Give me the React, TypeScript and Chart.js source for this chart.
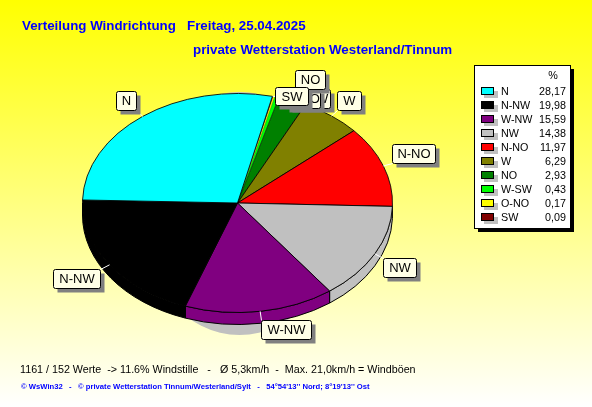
import React, { useEffect, useRef } from "react";
import { Chart, registerables } from "chart.js";

Chart.register(...registerables);

const categories = ["N", "N-NW", "W-NW", "NW", "N-NO", "W", "NO", "W-SW", "O-NO", "SW"];
const percents = [28.17, 19.98, 15.59, 14.38, 11.97, 6.29, 2.93, 0.43, 0.17, 0.09];
const percentLabels = ["28,17", "19,98", "15,59", "14,38", "11,97", "6,29", "2,93", "0,43", "0,17", "0,09"];
const colors = ["#00ffff", "#000000", "#800080", "#c0c0c0", "#ff0000", "#808000", "#008000", "#00ff00", "#ffff00", "#800000"];
const sliceBorders = [1, 1, 1, 1, 1, 1, 0.6, 0.2, 0.2, 0.2];

const titleLine1 = "Verteilung Windrichtung   Freitag, 25.04.2025";
const titleLine2 = "private Wetterstation Westerland/Tinnum";
const statsLine = "1161 / 152 Werte  -> 11.6% Windstille   -   Ø 5,3km/h  -  Max. 21,0km/h = Windböen";
const footerLine = "© WsWin32   -   © private Wetterstation Tinnum/Westerland/Sylt   -   54°54'13'' Nord; 8°19'13'' Ost";

// Layout of the callouts: [left, top, right, bottom], in back-to-front drawing order
const calloutBoxes: Record<string, number[]> = {
  "N": [116.5, 91.5, 136.5, 110.5],
  "N-NW": [53.5, 269.5, 100.5, 288.5],
  "W-NW": [261.5, 320.5, 311.5, 339.5],
  "NW": [383.5, 258.5, 416.5, 277.5],
  "N-NO": [392.5, 144.5, 435.5, 163.5],
  "W": [337.5, 91.5, 361.5, 110.5],
  "W-SW": [288.5, 89.5, 330.5, 108.5],
  "O-NO": [285.5, 89.5, 320.5, 108.5],
  "NO": [295.5, 70.5, 325.5, 89.5],
  "SW": [275.5, 87.5, 308.5, 105.5],
};

const SQUASH = 109.5 / 155;
const DEPTH = 12;
const ROTATION = 13;
const FONT = '"Liberation Sans", Arial, sans-serif';

function roundRect(ctx: CanvasRenderingContext2D, l: number, t: number, r: number, b: number, rad: number) {
  ctx.beginPath();
  ctx.roundRect(l, t, r - l, b - t, rad);
}

const pie3d = {
  id: "pie3d",
  beforeDraw(chart: any) {
    const { ctx, width, height } = chart;
    const g = ctx.createLinearGradient(0, 0, 0, height);
    g.addColorStop(0, "#ffff00");
    g.addColorStop(1, "#ffffff");
    ctx.fillStyle = g;
    ctx.fillRect(0, 0, width, height);
  },
  beforeDatasetsDraw(chart: any) {
    const { ctx } = chart;
    const arcs = chart.getDatasetMeta(0).data;
    const cx = arcs[0].x;
    const cy = arcs[0].y;
    const rx = arcs[0].outerRadius;
    const ry = rx * SQUASH;

    // grey shadow behind the pie
    ctx.save();
    ctx.fillStyle = "#c0c0c0";
    ctx.beginPath();
    ctx.ellipse(cx + 2, cy + 10.5, 100, 121.5, 0, 0, Math.PI * 2);
    ctx.fill();

    // rim of the pie, front half only
    arcs.forEach((arc: any) => {
      let a = arc.startAngle;
      let b = arc.endAngle;
      const two = Math.PI * 2;
      while (a < 0) { a += two; b += two; }
      while (a >= two) { a -= two; b -= two; }
      if (a >= Math.PI) return;
      b = Math.min(b, Math.PI);
      ctx.beginPath();
      ctx.ellipse(cx, cy + DEPTH, rx, ry, 0, a, b);
      ctx.ellipse(cx, cy, rx, ry, 0, b, a, true);
      ctx.closePath();
      ctx.fillStyle = arc.options.backgroundColor;
      ctx.strokeStyle = "#000000";
      ctx.lineWidth = 1;
      ctx.fill();
      ctx.stroke();
    });
    ctx.restore();

    // the face of the pie is the library's own arcs, flattened into an ellipse
    ctx.save();
    ctx.translate(0, cy);
    ctx.scale(1, SQUASH);
    ctx.translate(0, -cy);
  },
  afterDatasetsDraw(chart: any) {
    const { ctx } = chart;
    ctx.restore();

    const arcs = chart.getDatasetMeta(0).data;
    const names: string[] = chart.data.labels;
    ctx.save();

    // leader lines
    ctx.strokeStyle = "#ffffff";
    ctx.lineWidth = 1;
    arcs.forEach((arc: any, i: number) => {
      const box = calloutBoxes[names[i]];
      const mid = (arc.startAngle + arc.endAngle) / 2;
      const px = arc.x + Math.cos(mid) * arc.outerRadius;
      const py = arc.y + Math.sin(mid) * arc.outerRadius * SQUASH;
      const qx = Math.max(box[0], Math.min(box[2], px));
      const qy = Math.max(box[1], Math.min(box[3], py));
      ctx.beginPath();
      ctx.moveTo(px, py);
      ctx.lineTo(qx, qy);
      ctx.stroke();
    });

    // callouts
    ctx.font = `13px ${FONT}`;
    ctx.textAlign = "center";
    ctx.textBaseline = "middle";
    Object.keys(calloutBoxes).forEach((name) => {
      const [l, t, r, b] = calloutBoxes[name];
      ctx.fillStyle = "#808080";
      ctx.fillRect(l + 4, t + 4, r - l, b - t);
      roundRect(ctx, l, t, r, b, 2);
      ctx.fillStyle = "#ffffe6";
      ctx.fill();
      ctx.strokeStyle = "#000000";
      ctx.stroke();
      ctx.fillStyle = "#000000";
      ctx.fillText(name, (l + r) / 2, (t + b) / 2 + 0.5);
    });

    // legend table
    ctx.fillStyle = "#000000";
    ctx.fillRect(478, 69, 96, 163);
    ctx.fillStyle = "#ffffff";
    ctx.fillRect(474.5, 65.5, 96, 163);
    ctx.strokeStyle = "#000000";
    ctx.strokeRect(474.5, 65.5, 96, 163);
    ctx.font = `10.75px ${FONT}`;
    ctx.textBaseline = "alphabetic";
    ctx.fillStyle = "#000000";
    ctx.textAlign = "center";
    ctx.fillText("%", 553, 79);
    categories.forEach((name, i) => {
      const y = 91 + i * 14;
      ctx.fillStyle = "#c0c0c0";
      ctx.fillRect(484, y, 14, 7);
      ctx.fillStyle = colors[i];
      ctx.fillRect(481.5, y - 3.5, 12, 7);
      ctx.strokeStyle = "#000000";
      ctx.strokeRect(481.5, y - 3.5, 12, 7);
      ctx.fillStyle = "#000000";
      ctx.textAlign = "left";
      ctx.fillText(name, 501, y + 4);
      ctx.textAlign = "right";
      ctx.fillText(percentLabels[i], 566, y + 4);
    });

    // headings and foot lines
    ctx.textAlign = "left";
    ctx.fillStyle = "#0000ff";
    ctx.font = `bold 13.33px ${FONT}`;
    ctx.fillText(titleLine1, 22, 30);
    ctx.fillText(titleLine2, 193, 54);
    ctx.fillStyle = "#000000";
    ctx.font = `10.73px ${FONT}`;
    ctx.fillText(statsLine, 20, 373);
    ctx.fillStyle = "#0000ff";
    ctx.font = `bold 7.67px ${FONT}`;
    ctx.fillText(footerLine, 21, 389);
    ctx.restore();
  },
};

export default function App() {
  const ref = useRef<HTMLCanvasElement>(null);
  useEffect(() => {
    const chart = new Chart(ref.current!, {
      type: "pie",
      data: {
        labels: [...categories].reverse(),
        datasets: [
          {
            data: [...percents].reverse(),
            backgroundColor: [...colors].reverse(),
            borderColor: "#000000",
            borderWidth: [...sliceBorders].reverse(),
            clip: false,
          } as any,
        ],
      },
      options: {
        responsive: false,
        animation: false,
        devicePixelRatio: 1,
        events: [],
        rotation: ROTATION,
        radius: 155,
        layout: { padding: { left: 80, right: 197, top: 45.5, bottom: 46.5 } },
        plugins: { legend: { display: false }, title: { display: false }, tooltip: { enabled: false } },
      } as any,
      plugins: [pie3d],
    });
    return () => chart.destroy();
  }, []);
  return (
    <canvas
      ref={ref}
      width={592}
      height={407}
      style={{ position: "absolute", left: 0, top: 0, width: 592, height: 407, display: "block" }}
    />
  );
}
